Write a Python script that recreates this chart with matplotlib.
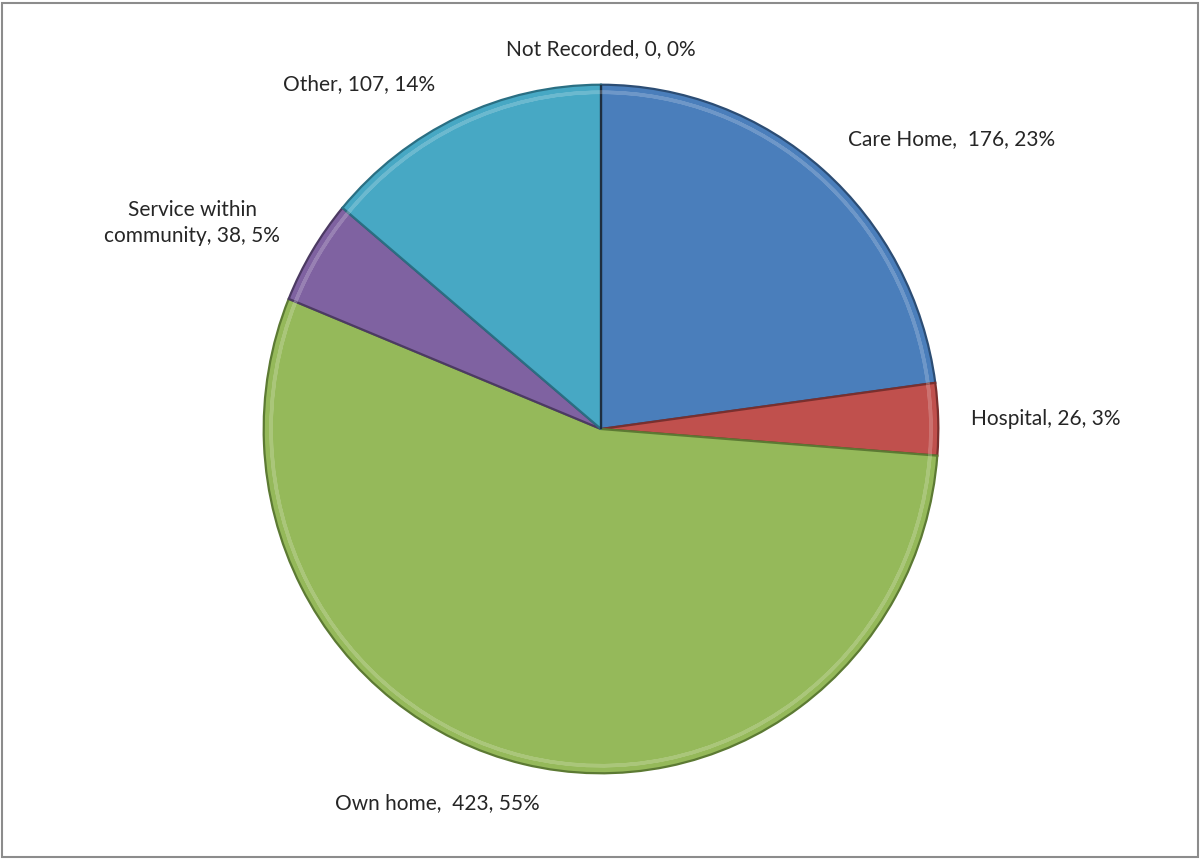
import matplotlib
matplotlib.use("Agg")
import matplotlib.pyplot as plt
from matplotlib.patches import Rectangle

plt.rcParams['font.family'] = ['Lato', 'DejaVu Sans']

# data, clockwise from 12 o'clock
categories = ['Care Home', 'Hospital', 'Own home', 'Service within community', 'Other', 'Not Recorded']
values = [176, 26, 423, 38, 107, 0]
pcts = ['23%', '3%', '55%', '5%', '14%', '0%']
label_text = ['Care Home,  176, 23%', 'Hospital, 26, 3%', 'Own home,  423, 55%',
              'Service within\ncommunity, 38, 5%', 'Other, 107, 14%', 'Not Recorded, 0, 0%']
colors = ['#4a7ebb', '#c0504d', '#95b95a', '#7f62a1', '#47a8c4', '#f79646']
edges = ['#2c4d74', '#7a2f2d', '#5c7a33', '#4c3a63', '#2a6f83', '#1e2e40']

W, H = 1201, 861
fig = plt.figure(figsize=(W / 100, H / 100), dpi=100)

# pie box in pixels
x0, x1, y0, y1 = 262, 940, 83, 775
ax = fig.add_axes([x0 / W, 1 - y1 / H, (x1 - x0) / W, (y1 - y0) / H])
wedges, _ = ax.pie(values, colors=colors, startangle=90, counterclock=False,
                   radius=1, wedgeprops=dict(linewidth=1.6))
for w, e in zip(wedges, edges):
    w.set_edgecolor(e)

# subtle bevel highlight just inside the rim
hl, _ = ax.pie(values, colors=['none'] * len(values), startangle=90, counterclock=False,
               radius=0.978, wedgeprops=dict(linewidth=2.5, width=0.0))
for w in hl:
    w.set_edgecolor((1, 1, 1, 0.2))

ax.set_xlim(-1.005, 1.005)
ax.set_ylim(-1.005, 1.005)
ax.set_aspect('auto')
ax.axis('off')

# data labels (pixel positions)
label_pos = [(952, 139), (1046, 419), (437, 803), (192, 223), (359, 84), (601, 49)]
for txt, (px, py) in zip(label_text, label_pos):
    fig.text(px / W, 1 - py / H, txt, ha='center', va='center', fontsize=15,
             color='#262626', linespacing=1.35)

# chart frame
fig.patches.append(Rectangle((2 / W, 4 / H), 1196 / W, 854 / H, transform=fig.transFigure,
                             fill=False, edgecolor='#8c8c8c', linewidth=1.5))

fig.savefig('out.png', dpi=100, facecolor='white')
